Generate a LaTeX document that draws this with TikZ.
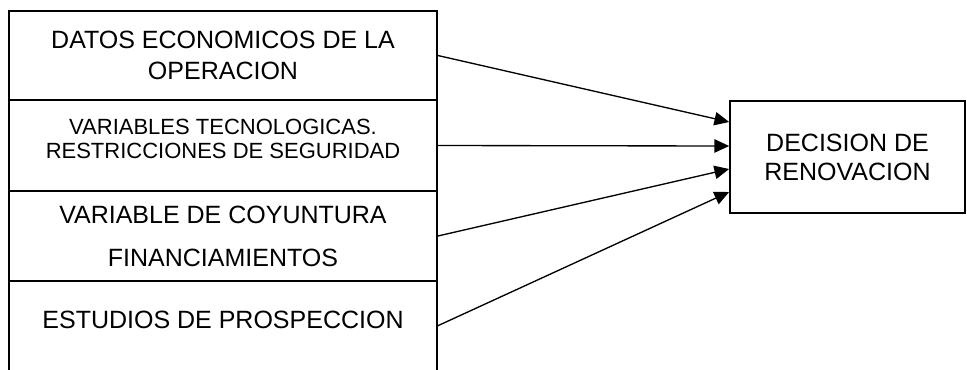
\documentclass[tikz,border=0pt]{standalone}
\usepackage{fontspec}
\setmainfont{Liberation Sans}
\usetikzlibrary{arrows, arrows.meta}
\usetikzlibrary{calc}

\begin{document}
\begin{tikzpicture}[x=0.75pt, y=-0.75pt,
    cell/.style={rectangle, inner sep=0pt, minimum width=321pt, align=center},
    arr/.style={line width=1pt, -{Triangle[length=11pt, width=10pt]}}]
    \useasboundingbox (0,0) rectangle (967,369);

    % factores de la izquierda
    \node[cell, draw, line width=1.3pt, minimum height=66.75pt, font=\fontsize{18.75}{23.25}\selectfont] (datos) at (223,55.5) {DATOS ECONOMICOS DE LA\\OPERACION};
    \node[cell, draw, line width=1.3pt, minimum height=68.25pt, text depth=9.75pt, font=\fontsize{16.5}{18}\selectfont] (tecno) at (223,145.5) {VARIABLES TECNOLOGICAS.\\RESTRICCIONES DE SEGURIDAD};
    \node[cell, draw, line width=1.3pt, minimum height=67.5pt, font=\fontsize{18.75}{32.25}\selectfont] (coyun) at (223,236) {VARIABLE DE COYUNTURA\\FINANCIAMIENTOS};
    \node[cell, minimum height=67.5pt, text depth=9pt, font=\fontsize{18.75}{23}\selectfont] (prosp) at (223,326) {ESTUDIOS DE PROSPECCION};
    \draw[line width=1.3pt] (prosp.south west) -- (prosp.north west);
    \draw[line width=1.3pt] (prosp.north east) -- (prosp.south east);

    % decision
    \node[rectangle, draw, line width=1.3pt, inner sep=0pt, minimum width=176.25pt, minimum height=84pt, align=center, font=\fontsize{18.75}{21.75}\selectfont] (dec) at (847.5,157) {DECISION DE\\RENOVACION};

    \draw[arr] (datos.east) -- ([yshift=26.25pt]dec.west);
    \draw[arr] (tecno.east) -- ([yshift=8.25pt]dec.west);
    \draw[arr] (coyun.east) -- ([yshift=-9pt]dec.west);
    \draw[arr] (prosp.east) -- ([yshift=-26.25pt]dec.west);
\end{tikzpicture}
\end{document}
